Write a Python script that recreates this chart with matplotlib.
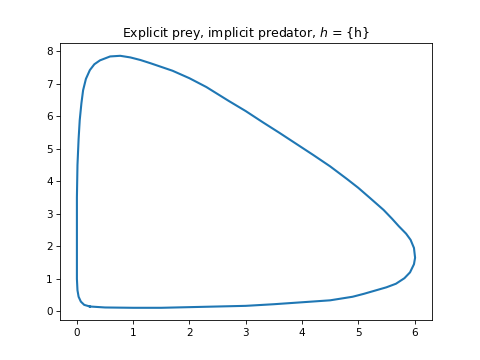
from matplotlib import pyplot as plt

prey = [0.23, 0.5, 1.0, 1.5, 2.0, 2.5, 3.0, 3.5, 4.0, 4.5, 4.9, 5.1, 5.3,
        5.5, 5.67, 5.82, 5.92, 5.99, 6.01, 5.99, 5.93, 5.85, 5.72, 5.6,
        5.45, 5.2, 5.0, 4.8, 4.5, 4.2, 3.9, 3.6, 3.3, 3.0, 2.7, 2.3, 2.0,
        1.7, 1.31, 1.13, 0.95, 0.77, 0.59, 0.41, 0.31, 0.23, 0.16, 0.11,
        0.08, 0.05, 0.03, 0.01, 0.0, 0.0, 0.0, 0.0, 0.01, 0.03, 0.07,
        0.13, 0.23]
predator = [0.15, 0.12, 0.11, 0.11, 0.13, 0.15, 0.17, 0.22, 0.28, 0.34,
            0.45, 0.54, 0.64, 0.74, 0.85, 1.02, 1.2, 1.45, 1.65, 1.95, 2.2,
            2.39, 2.62, 2.85, 3.12, 3.5, 3.8, 4.07, 4.46, 4.81, 5.15, 5.49,
            5.82, 6.16, 6.47, 6.9, 7.17, 7.4, 7.63, 7.73, 7.81, 7.86, 7.84,
            7.72, 7.6, 7.42, 7.15, 6.8, 6.4, 5.88, 5.3, 4.5, 3.5, 2.5, 1.5,
            1.0, 0.65, 0.45, 0.3, 0.2, 0.15]


def main():
    fig = plt.figure(figsize=(6.4, 4.8), dpi=75)
    plt.plot(prey, predator, c='#1f77b4', linewidth=2)
    plt.title("Explicit prey, implicit predator, $h$ = {h}")
    fig.savefig('out.png')


if __name__ == '__main__':
    main()
